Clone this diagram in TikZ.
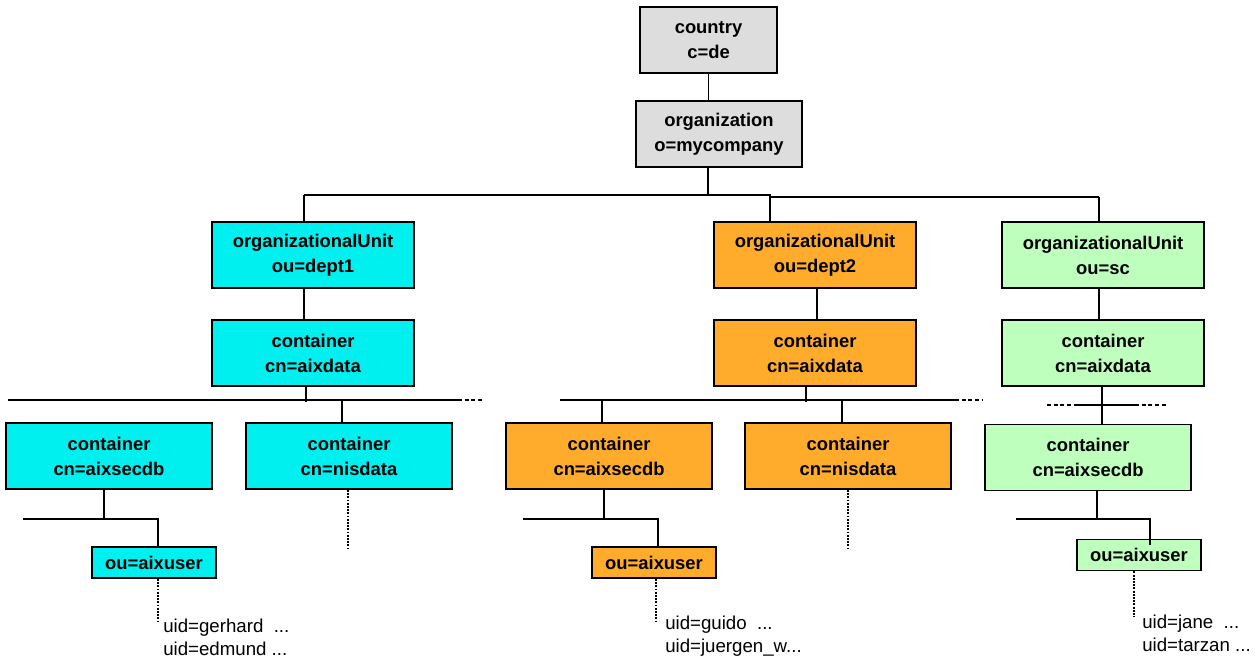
\documentclass[tikz,border=0pt]{standalone}
\usepackage{fontspec}
\setmainfont{Liberation Sans}
\usetikzlibrary{positioning}
\definecolor{cGray}{RGB}{221,221,221}
\definecolor{cCyan}{RGB}{0,240,240}
\definecolor{cOrange}{RGB}{255,172,44}
\definecolor{cGreen}{RGB}{190,255,190}
\tikzset{
	entry/.style  ={rectangle, draw=black, line width=1.4pt, align=center, inner sep=0pt, font=\bfseries\fontsize{13.8}{18.75}\selectfont},
	unitbox/.style={entry, minimum width=151.5pt, minimum height=49.5pt},
	subbox/.style ={entry, minimum width=154.5pt, minimum height=49.5pt},
	leafbox/.style={entry, minimum width=93pt, minimum height=23.25pt},
	% connectors
	link/.style   ={line width=1.3pt},
	more/.style   ={line width=1.4pt, densely dotted},
	open/.style   ={line width=1.3pt, densely dashed},
	users/.style  ={align=left, anchor=west, inner sep=0pt, font=\fontsize{14}{17.5}\selectfont},
}
\begin{document}
\begin{tikzpicture}[x=0.75pt, y=-0.75pt]
	\useasboundingbox (0,0) rectangle (1255,660);
	% root entries
	\node[entry, fill=cGray, minimum width=102.75pt, minimum height=49.5pt] (country) at (708.5,40) {country\\c=de};
	\node[entry, fill=cGray, minimum width=124.5pt, minimum height=49.5pt] (org) at (719,134) {organization\\o=mycompany};
	% organizational units
	\node[unitbox, fill=cCyan]   (ou1) at (313,255)  {organizationalUnit\\ou=dept1};
	\node[unitbox, fill=cOrange] (ou2) at (815,255)  {organizationalUnit\\ou=dept2};
	\node[unitbox, fill=cGreen]  (ou3) at (1103,255) {organizationalUnit\\ou=sc};
	\node[unitbox, fill=cCyan]   (data1) at (313,353)  {container\\cn=aixdata};
	\node[unitbox, fill=cOrange] (data2) at (815,353)  {container\\cn=aixdata};
	\node[unitbox, fill=cGreen]  (data3) at (1103,353) {container\\cn=aixdata};
	% sub containers
	\node[subbox, fill=cCyan]   (sec1) at (109,456)    {container\\cn=aixsecdb};
	\node[subbox, fill=cCyan]   (nis1) at (349,456)    {container\\cn=nisdata};
	\node[subbox, fill=cOrange] (sec2) at (609,456)    {container\\cn=aixsecdb};
	\node[subbox, fill=cOrange] (nis2) at (848,456)    {container\\cn=nisdata};
	\node[subbox, fill=cGreen]  (sec3) at (1088,457.5) {container\\cn=aixsecdb};
	\node[leafbox, fill=cCyan]   (user1) at (154,562.5) {ou=aixuser};
	\node[leafbox, fill=cOrange] (user2) at (654,562.5) {ou=aixuser};
	\node[leafbox, fill=cGreen]  (user3) at (1139,555)  {ou=aixuser};
	% user entries
	\node[users] (uid1) at (163,637) {uid=gerhard\ \ ...\\uid=edmund ...};
	\node[users] (uid2) at (665,636) {uid=guido\ \ ...\\uid=juergen\_w...};
	\node[users] (uid3) at (1142,633) {uid=jane\ \ ...\\uid=tarzan ...};

	% top level tree
	\draw[link] (country) -- (country |- org.north);
	\coordinate (busT) at (708,195);
	\coordinate (d1) at (304,195);
	\coordinate (d2) at (770,195);
	\coordinate (d3) at (1099,197);
	\draw[link] (org.south -| busT) -- (busT);
	\draw[link] (d1) -- (d2) -- (d2 |- d3) -- (d3);
	\draw[link] (d1) -- (d1 |- ou1.north);
	\draw[link] (d2) -- (d2 |- ou2.north);
	\draw[link] (d3) -- (d3 |- ou3.north);
	\draw[link] (ou1.south -| d1) -- (d1 |- data1.north);
	\draw[link] ([xshift=1.5pt]ou2.south) -- ([xshift=1.5pt]data2.north);
	\draw[link] (ou3.south -| d3) -- (d3 |- data3.north);
	% dept1 branches
	\coordinate (b1l) at (8,400);
	\coordinate (b1r) at (458,400);
	\coordinate (b1e) at (482,400);
	\draw[link] (b1l) -- (b1r);
	\draw[open] (b1r) -- (b1e);
	\draw[link] (data1.south -| 306,0) -- (306,402);
	\draw[link] (342,400) -- (nis1.north -| 342,0);
	% dept2 branches
	\coordinate (b2l) at (560,400);
	\coordinate (b2r) at (955,400);
	\coordinate (b2e) at (982,400);
	\draw[link] (b2l) -- (b2r);
	\draw[open] (b2r) -- (b2e);
	\draw[link] (data2.south -| 806,0) -- (806,402);
	\draw[link] (602,400) -- (sec2.north -| 602,0);
	\draw[link] (842,400) -- (nis2.north -| 842,0);
	% sc branches
	\draw[link] (data3.south -| 1102,0) -- (sec3.north -| 1102,0);
	\draw[open] (1047,405) -- (1078,405);
	\draw[link] (1078,405) -- (1135,405);
	\draw[open] (1135,405) -- (1166,405);
	% aixuser links
	\draw[link] (sec1.south -| 104,0) -- (104,519);
	\draw[link] (23,519) -- (158,519) -- (user1.north -| 158,0);
	\draw[link] (sec2.south -| 604,0) -- (604,519);
	\draw[link] (523,519) -- (658,519) -- (user2.north -| 658,0);
	\draw[link] (sec3.south -| 1097,0) -- (1097,519);
	\draw[link] (1016,519) -- (1150,519) -- (1150,545);
	% further entries
	\draw[more] (nis1.south -| 348,0) -- (348,548);
	\draw[more] (nis2.south -| 848,0) -- (848,548);
	\draw[more] (user1.south -| 158,0) -- (158,623);
	\draw[more] (user2.south -| 656,0) -- (656,623);
	\draw[more] (user3.south -| 1134,0) -- (1134,617);
\end{tikzpicture}
\end{document}
